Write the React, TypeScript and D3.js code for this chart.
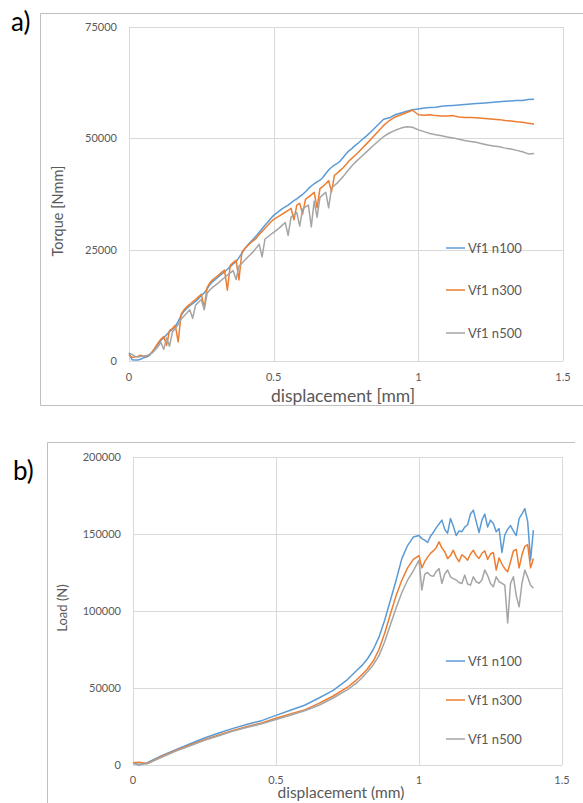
import React, { useRef, useEffect } from 'react';
import * as d3 from 'd3';

// panel a) torque vs displacement
const dispA = [
  0, 0.01, 0.02, 0.03, 0.04, 0.05, 0.06, 0.07, 0.08, 0.09,
  0.1, 0.11, 0.12, 0.13, 0.14, 0.15, 0.16, 0.17, 0.18, 0.19,
  0.2, 0.21, 0.22, 0.23, 0.24, 0.25, 0.26, 0.27, 0.28, 0.29,
  0.3, 0.31, 0.32, 0.33, 0.34, 0.35, 0.36, 0.37, 0.38, 0.39,
  0.4, 0.41, 0.42, 0.43, 0.44, 0.45, 0.46, 0.47, 0.48, 0.49,
  0.5, 0.51, 0.52, 0.53, 0.54, 0.55, 0.56, 0.57, 0.58, 0.59,
  0.6, 0.61, 0.62, 0.63, 0.64, 0.65, 0.66, 0.67, 0.68, 0.69,
  0.7, 0.71, 0.72, 0.73, 0.74, 0.75, 0.76, 0.77, 0.78, 0.79,
  0.8,
  0.82, 0.84, 0.86, 0.88, 0.9, 0.92, 0.94, 0.96, 0.98, 1.0,
  1.02, 1.04, 1.06, 1.08, 1.1, 1.12, 1.14, 1.16, 1.18, 1.2,
  1.22, 1.24, 1.26, 1.28, 1.3, 1.32, 1.34, 1.36, 1.38, 1.4,
];

const torqueN100 = [
  1800, 300, 200, 200, 400, 700, 900, 1200, 2000, 2900,
  3800, 4600, 5200, 5900, 6600, 7100, 7700, 8900, 10200, 11200,
  11800, 12400, 12900, 13400, 14000, 14700, 15300, 16200, 17200, 17900,
  18400, 19000, 19500, 20000, 20600, 21200, 21800, 22300, 23200, 24200,
  25200, 26000, 26700, 27400, 28100, 28900, 29700, 30500, 31200, 32000,
  32700, 33200, 33700, 34200, 34600, 35000, 35500, 36000, 36400, 36900,
  37400, 38000, 38700, 39300, 39800, 40200, 40600, 41200, 42100, 42900,
  43500, 44000, 44400, 44900, 45700, 46500, 47200, 47700, 48300, 48800,
  49400,
  50500, 51700, 53000, 54300, 54600, 55300, 55700, 56100, 56400, 56600,
  56800, 56900, 57000, 57200, 57300, 57400, 57500, 57600, 57700, 57800,
  57900, 58000, 58100, 58200, 58300, 58400, 58500, 58500, 58700, 58800,
];

const torqueN300 = [
  1300, 800, 900, 1000, 1300, 1000, 1100, 1400, 2000, 3000,
  4000, 4900, 5500, 3500, 6800, 7300, 8000, 4300, 10500, 11500,
  12200, 12700, 13300, 13800, 14400, 15000, 12000, 16500, 17600, 18300,
  18800, 19300, 19900, 20400, 15900, 21500, 22100, 22600, 18200, 24400,
  25200, 25900, 26500, 27000, 27600, 28400, 29100, 29800, 30500, 31200,
  31800, 32200, 32600, 33000, 33400, 33800, 34300, 31700, 35000, 35400,
  33000, 36300, 36800, 37300, 37900, 34400, 38700, 39200, 39800, 40500,
  38000, 41700, 42200, 42800, 43400, 44100, 44900, 45500, 46100, 46700,
  47400,
  48700, 50100, 51500, 52900, 54000, 54800, 55300, 55800, 56300, 55300,
  55200, 55300, 55100, 55000, 55000, 55100, 54800, 54700, 54700, 54600,
  54500, 54400, 54300, 54200, 54000, 53900, 53700, 53600, 53400, 53200,
];

const torqueN500 = [
  1800, 1500, 1100, 900, 1000, 1100, 1200, 1400, 1800, 2500,
  3200, 4200, 2600, 5200, 3300, 6500, 7300, 8200, 9400, 10100,
  10800, 11500, 9600, 12500, 13200, 13800, 11500, 15200, 16000, 16600,
  17100, 17600, 18200, 18700, 19300, 19800, 20300, 18300, 21300, 21900,
  22600, 23300, 23900, 24600, 25400, 26200, 23400, 27400, 27900, 28400,
  28900, 29400, 29900, 30500, 31100, 28200, 32300, 32800, 33300, 30300,
  34100, 34600, 35000, 30100, 35900, 32300, 36700, 37300, 37900, 34400,
  38800, 39400, 40000, 40700, 41400, 42200, 43000, 43800, 44500, 45100,
  45700,
  46900, 48100, 49300, 50400, 51200, 51800, 52300, 52600, 52500, 51900,
  51500, 51100, 50800, 50600, 50300, 50100, 49800, 49500, 49300, 49100,
  48800, 48500, 48300, 48100, 47800, 47600, 47300, 47000, 46500, 46600,
];

// panel b) load vs displacement
const dispB = [
  0, 0.02, 0.05, 0.1, 0.15, 0.2, 0.25, 0.3, 0.35, 0.4,
  0.45, 0.5, 0.55, 0.6, 0.65, 0.7, 0.75, 0.78, 0.8, 0.82,
  0.84, 0.86, 0.88, 0.9, 0.92, 0.94, 0.96, 0.98, 1.0,
  1.01, 1.02, 1.03, 1.04, 1.05, 1.06, 1.07, 1.08, 1.09, 1.1,
  1.11, 1.12, 1.13, 1.14, 1.15, 1.16, 1.17, 1.18, 1.19, 1.2,
  1.21, 1.22, 1.23, 1.24, 1.25, 1.26, 1.27, 1.28, 1.29, 1.3,
  1.31, 1.32, 1.33, 1.34, 1.35, 1.36, 1.37, 1.38, 1.39, 1.4,
];

const loadN100 = [
  1300, 0, 1500, 6000, 10000, 13800, 17500, 20800, 23800, 26500,
  28800, 32200, 35500, 38800, 43500, 48500, 55500, 61000, 64500, 69000,
  75000, 83000, 94000, 107000, 120000, 134000, 142500, 148000, 149000,
  147000, 146000, 144500, 148500, 151000, 154000, 156500, 159000, 153000, 150500,
  160000, 155000, 149000, 152000, 151500, 154500, 156000, 163000, 165500, 158000,
  151000, 159000, 163000, 154500, 159000, 156800, 151500, 153500, 138000, 149500,
  153000, 155500, 152000, 149000, 160000, 163000, 166500, 158000, 133000, 152500,
];

const loadN300 = [
  1500, 1800, 1000, 5500, 9500, 13000, 16500, 19500, 22500, 25000,
  27300, 30300, 33200, 35800, 40000, 44800, 50500, 55000, 58500, 62500,
  67500, 75000, 85500, 98000, 110000, 120000, 128000, 133500, 136000,
  128000, 132000, 135000, 137400, 139000, 141000, 144900, 141000, 138500, 134000,
  136000, 139500, 135000, 132000, 136500, 135000, 133000, 137000, 139500, 136000,
  134100, 137500, 139000, 133500, 137000, 138000, 126600, 134500, 130500, 127500,
  125500, 132000, 139000, 140000, 128000, 136500, 142000, 143000, 128000, 134100,
];

const loadN500 = [
  1000, 500, 800, 5000, 9000, 12500, 16000, 19000, 22000, 24500,
  26800, 29500, 32300, 35200, 38800, 43500, 49000, 53000, 56500, 60500,
  65000, 71000, 80000, 91000, 102000, 112000, 120000, 126000, 133000,
  113600, 124000, 125000, 123000, 122500, 125500, 127600, 117900, 124000, 126600,
  122200, 121000, 120100, 118500, 117900, 123300, 117500, 116800, 122200, 119000,
  118000, 120100, 126600, 123000, 117900, 115700, 122200, 119000, 117900, 116800,
  92200, 117900, 122200, 110000, 102700, 118000, 126600, 122000, 116800, 114700,
];

const seriesNames = ['Vf1 n100', 'Vf1 n300', 'Vf1 n500'];
const seriesColors = ['#5B9BD5', '#ED7D31', '#A5A5A5'];
const xTicks = [0, 0.5, 1, 1.5];
const torqueTicks = [0, 25000, 50000, 75000];
const loadTicks = [0, 50000, 100000, 150000, 200000];

const FONT = 'Lato, "Liberation Sans", Arial, sans-serif';
const TEXT = '#595959';

const drawPanel = (svg, p) => {
  const g = svg.append('g');

  // chart area frame (only the visible edges)
  p.frame.forEach(([x1, y1, x2, y2]) => {
    g.append('line')
      .attr('x1', x1).attr('y1', y1).attr('x2', x2).attr('y2', y2)
      .attr('stroke', '#BFBFBF').attr('stroke-width', 1);
  });

  g.append('text')
    .attr('x', p.label[0]).attr('y', p.label[1])
    .attr('font-family', FONT).attr('font-size', 26)
    .attr('fill', '#000')
    .text(p.label[2]);

  const x = d3.scaleLinear().domain([0, 1.5]).range([p.left, p.right]);
  const y = d3.scaleLinear().domain([0, p.yMax]).range([p.bottom, p.top]);

  // gridlines
  xTicks.forEach(t => {
    g.append('line')
      .attr('x1', Math.round(x(t)) + 0.5).attr('x2', Math.round(x(t)) + 0.5)
      .attr('y1', p.top).attr('y2', p.bottom)
      .attr('stroke', '#D9D9D9');
  });
  p.yTicks.forEach(t => {
    g.append('line')
      .attr('x1', p.left).attr('x2', p.right)
      .attr('y1', Math.round(y(t)) + 0.5).attr('y2', Math.round(y(t)) + 0.5)
      .attr('stroke', '#D9D9D9');
  });

  // tick labels
  g.selectAll('.ytick').data(p.yTicks).enter().append('text')
    .attr('x', p.left - 12).attr('y', d => y(d)).attr('dy', '0.35em')
    .attr('text-anchor', 'end')
    .attr('font-family', FONT).attr('font-size', 11).attr('fill', TEXT)
    .text(d => String(d));
  g.selectAll('.xtick').data(xTicks).enter().append('text')
    .attr('x', d => x(d)).attr('y', p.bottom + p.xTickGap).attr('dy', '0.35em')
    .attr('text-anchor', 'middle')
    .attr('font-family', FONT).attr('font-size', 11).attr('fill', TEXT)
    .text(d => String(d));

  // axis titles
  g.append('text')
    .attr('transform', `translate(${p.yTitle[0]},${p.yTitle[1]}) rotate(-90)`)
    .attr('dy', '0.35em').attr('text-anchor', 'middle')
    .attr('font-family', FONT).attr('font-size', p.yTitle[2]).attr('fill', TEXT)
    .text(p.yTitle[3]);
  g.append('text')
    .attr('x', p.xTitle[0]).attr('y', p.xTitle[1]).attr('dy', '0.35em')
    .attr('text-anchor', 'middle')
    .attr('font-family', FONT).attr('font-size', p.xTitle[2]).attr('fill', TEXT)
    .text(p.xTitle[3]);

  // series
  const line = d3.line<number>()
    .x((d, i) => x(p.xs[i]))
    .y(d => y(d));
  p.series.forEach((vals, i) => {
    g.append('path')
      .attr('d', line(vals))
      .attr('fill', 'none')
      .attr('stroke', seriesColors[i])
      .attr('stroke-width', 1.5)
      .attr('stroke-linejoin', 'round');
  });

  // legend
  seriesNames.forEach((name, i) => {
    const ly = p.legendYs[i];
    g.append('line')
      .attr('x1', 446).attr('x2', 465).attr('y1', ly).attr('y2', ly)
      .attr('stroke', seriesColors[i]).attr('stroke-width', 1.5);
    g.append('text')
      .attr('x', 468).attr('y', ly).attr('dy', '0.35em')
      .attr('font-family', FONT).attr('font-size', 13).attr('fill', TEXT)
      .text(name);
  });
};

const App = () => {
  const svgRef = useRef(null);

  useEffect(() => {
    if (!svgRef.current) return;
    const svg = d3.select(svgRef.current);
    svg.selectAll('*').remove();

    drawPanel(svg, {
      frame: [[40.5, 13.5, 583, 13.5], [40.5, 13.5, 40.5, 405.5], [40.5, 405.5, 583, 405.5]],
      label: [11, 31, 'a)'],
      left: 129, right: 563, top: 27, bottom: 361,
      yMax: 75000, yTicks: torqueTicks, xTickGap: 16,
      xs: dispA,
      series: [torqueN100, torqueN300, torqueN500],
      yTitle: [58, 211, 14.5, 'Torque [Nmm]'],
      xTitle: [343, 396, 17.5, 'displacement [mm]'],
      legendYs: [248, 290, 333],
    });

    drawPanel(svg, {
      frame: [[47.5, 442.5, 575, 442.5], [47.5, 442.5, 47.5, 803]],
      label: [13, 480, 'b)'],
      left: 133, right: 562, top: 457, bottom: 765,
      yMax: 200000, yTicks: loadTicks, xTickGap: 15,
      xs: dispB,
      series: [loadN100, loadN300, loadN500],
      yTitle: [62, 608, 13, 'Load (N)'],
      xTitle: [341, 793, 15.5, 'displacement (mm)'],
      legendYs: [661, 700, 739],
    });
  }, []);

  return (
    <svg
      ref={svgRef}
      width={583}
      height={803}
      style={{ position: 'absolute', left: 0, top: 0, background: '#fff' }}
    />
  );
};

export default App;
